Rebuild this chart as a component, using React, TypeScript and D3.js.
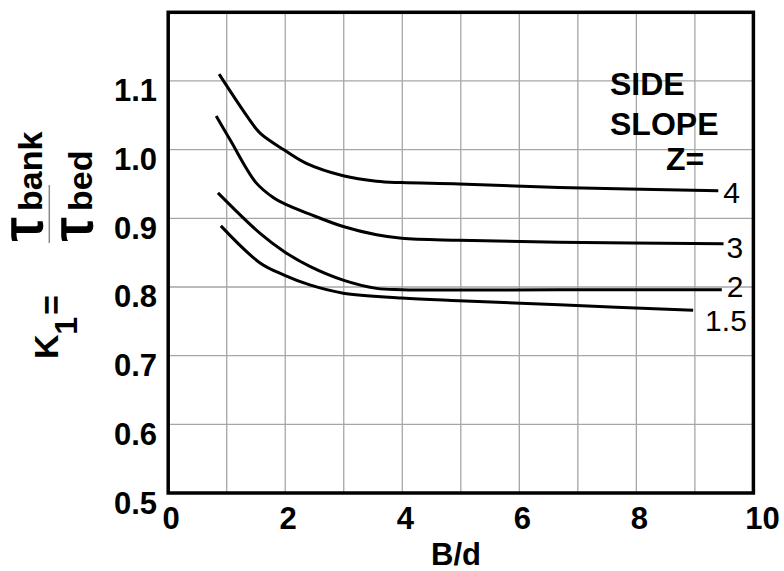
import React from "react";
import * as d3 from "d3";

// ---- data ----
const xTicks = [0, 2, 4, 6, 8, 10];
const yTicks = [0.5, 0.6, 0.7, 0.8, 0.9, 1.0, 1.1];
const xGrid = [1, 2, 3, 4, 5, 6, 7, 8, 9];
const yGrid = [0.6, 0.7, 0.8, 0.9, 1.0, 1.1];

const seriesNames = ["4", "3", "2", "1.5"];

const z4: [number, number][] = [
  [0.87, 1.11], [1.37, 1.046], [1.57, 1.024], [1.99, 0.999], [2.36, 0.98],
  [2.99, 0.962], [3.56, 0.954], [3.99, 0.952], [4.97, 0.95], [6.68, 0.945], [9.4, 0.94],
];
const z3: [number, number][] = [
  [0.82, 1.049], [1.06, 1.014], [1.5, 0.952], [1.8, 0.93], [1.99, 0.921], [2.42, 0.906],
  [2.99, 0.888], [3.56, 0.876], [3.99, 0.871], [4.97, 0.868], [6.68, 0.865], [9.49, 0.863],
];
const z2: [number, number][] = [
  [0.85, 0.937], [1.57, 0.878], [1.99, 0.851], [2.42, 0.83], [2.99, 0.81],
  [3.56, 0.798], [3.99, 0.796], [6.68, 0.796], [9.46, 0.796],
];
const z15: [number, number][] = [
  [0.9, 0.889], [1.57, 0.835], [1.99, 0.817], [2.42, 0.803], [2.99, 0.791],
  [3.99, 0.784], [4.97, 0.78], [6.68, 0.774], [8.97, 0.766],
];
const seriesValues = [z4, z3, z2, z15];

// label offsets (style, not data)
const labelOffsets = [
  { dx: 5, dy: 12 },
  { dx: 3, dy: 14 },
  { dx: 5, dy: 7 },
  { dx: 12, dy: 21 },
];

const FONT = "'Liberation Sans', Arial, Helvetica, sans-serif";

export default function App() {
  const W = 784;
  const H = 571;
  const x0 = 168.2, x1 = 753.4, yTop = 12.3, yBot = 493;
  const x = d3.scaleLinear().domain([0, 10]).range([x0, x1]);
  const y = d3.scaleLinear().domain([0.5, 1.2]).range([yBot, yTop]);
  const line = d3
    .line<[number, number]>()
    .x((d) => x(d[0]))
    .y((d) => y(d[1]))
    .curve(d3.curveCatmullRom.alpha(0.5));

  return (
    <svg
      width={W}
      height={H}
      style={{ position: "absolute", left: 0, top: 0, background: "#fff" }}
      fontFamily={FONT}
    >
      <rect x={0} y={0} width={W} height={H} fill="#fff" />
      {/* grid */}
      {xGrid.map((v) => (
        <line key={"gx" + v} x1={x(v)} x2={x(v)} y1={yTop} y2={yBot} stroke="#a6a6a6" strokeWidth={1.3} />
      ))}
      {yGrid.map((v) => (
        <line key={"gy" + v} x1={x0} x2={x1} y1={y(v)} y2={y(v)} stroke="#a6a6a6" strokeWidth={1.3} />
      ))}
      {/* frame */}
      <rect x={x0} y={yTop} width={x1 - x0} height={yBot - yTop} fill="none" stroke="#000" strokeWidth={3.5} />

      {/* curves */}
      {seriesValues.map((s, i) => (
        <path key={"s" + i} d={line(s) || ""} fill="none" stroke="#000" strokeWidth={3} strokeLinejoin="round" />
      ))}
      {seriesValues.map((s, i) => {
        const last = s[s.length - 1];
        return (
          <text
            key={"l" + i}
            x={x(last[0]) + labelOffsets[i].dx}
            y={y(last[1]) + labelOffsets[i].dy}
            fontSize={30}
            fill="#000"
          >
            {seriesNames[i]}
          </text>
        );
      })}

      {/* legend title */}
      <text x={610} y={95} fontSize={32} fontWeight="bold">SIDE</text>
      <text x={610} y={135} fontSize={32} fontWeight="bold">SLOPE</text>
      <text x={666} y={170} fontSize={32} fontWeight="bold">Z=</text>

      {/* y tick labels */}
      {yTicks.map((v) => (
        <text key={"yt" + v} x={157} y={y(v) + 20.5} fontSize={31} fontWeight="bold" textAnchor="end">
          {v.toFixed(1)}
        </text>
      ))}
      {/* x tick labels */}
      {xTicks.map((v) => (
        <text
          key={"xt" + v}
          x={x(v) + (v === 10 ? 9 : 3)}
          y={528.5}
          fontSize={31}
          fontWeight="bold"
          textAnchor="middle"
        >
          {v}
        </text>
      ))}
      <text x={456} y={565} fontSize={31} fontWeight="bold" textAnchor="middle">B/d</text>

      {/* y axis title, rotated */}
      <g transform="rotate(-90)">
        <text x={-241} y={41.7} fontSize={58} stroke="#000" strokeWidth={1.6}>τ</text>
        <text x={-211} y={41.7} fontSize={34} fontWeight="bold">bank</text>
        <text x={-241} y={91.7} fontSize={58} stroke="#000" strokeWidth={1.6}>τ</text>
        <text x={-211} y={91.7} fontSize={34} fontWeight="bold">bed</text>
        <text x={-359} y={58.3} fontSize={34} fontWeight="bold">K</text>
        <text x={-317} y={76.7} fontSize={32} fontWeight="bold" textAnchor="end">1</text>
        <text x={-315} y={62.5} fontSize={34} fontWeight="bold">=</text>
      </g>
      <line x1={49.3} x2={49.3} y1={185} y2={243} stroke="#888" strokeWidth={1.5} />
    </svg>
  );
}
